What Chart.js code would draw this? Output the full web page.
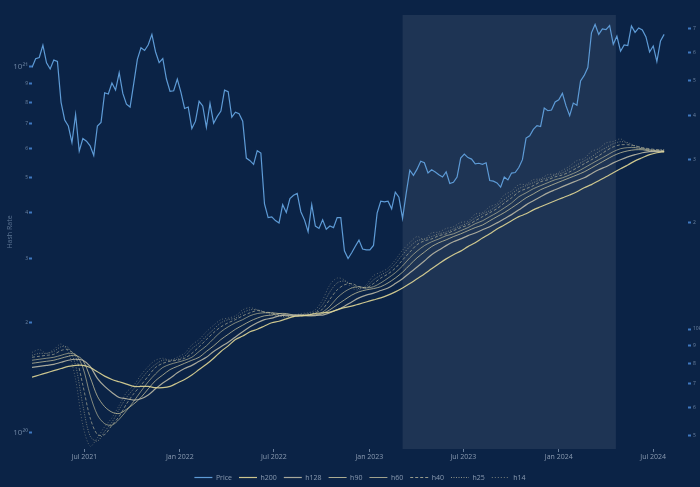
<!DOCTYPE html>
<html>
<head>
<meta charset="utf-8">
<script src="https://cdn.jsdelivr.net/npm/chart.js@4.4.1/dist/chart.umd.min.js"></script>
<style>
  html, body { margin: 0; padding: 0; background: #0b2346; }
</style>
</head>
<body>
<canvas id="hashChart" width="700" height="487"></canvas>
<script>
// sampling of the series below
const hashStart = "2021-03-22"; // one value every 14 days
const hashStepDays = 14;
const priceStart = "2021-03-22"; // one value every 7 days
const priceStepDays = 7;

// BTC price, USD
const price = [
  54500, 57700, 58200, 63000, 56200, 54000, 57200, 56700, 43500, 38800, 37300, 33500, 40200, 31700, 34400,
  33800, 32800, 30800, 37300, 38200, 46300, 45900, 49300, 47100, 52700, 46100, 43000, 42200, 49100, 57500,
  62000, 60900, 63200, 67600, 60400, 56300, 57800, 50600, 46700, 46900, 50600,
  46400, 41800, 42200, 36700, 38500, 43800, 42500, 37000, 43200, 38000, 39700, 41100, 47100, 46600, 39500,
  40800, 40400, 38500, 30300, 29800, 29100, 31800, 31300, 22500, 20600, 20700, 20200, 19900, 22400, 21300,
  23300, 23800, 24100, 21400, 20300, 18800, 22400, 19500, 19200, 20300, 19100, 19500, 19300, 20600, 20600,
  16600, 15800, 16400, 17100, 17800, 16800, 16700,
  16700, 17200, 21200, 22900, 22800, 22900, 21800, 24300, 23500, 20500, 24100, 28000, 27100, 28200, 29700,
  29400, 27500, 28100, 27700, 27200, 26800, 27700, 25700, 25900, 26800, 30300, 31100, 30400, 30100, 29200,
  29300, 29100, 29400, 26200, 26100, 25800, 25100, 26800, 26300, 27500, 27600, 28500, 30000, 34500, 35000,
  36500, 37400, 37200, 41900, 41200, 41400, 43600,
  44200, 46100, 42500, 39900, 43300, 42700, 50000, 51800, 54500, 68300, 72100, 67600, 70000, 69700, 71600,
  63400, 66800, 60600, 63100, 62900, 71400, 68500, 70500, 69600, 66500, 60300, 62700, 56700, 64800, 67600
];

// hash rate moving averages, EH/s
const h200 = [
  142, 144, 146, 148, 150, 152, 153, 153, 151, 147, 143, 140, 138, 136, 134, 134, 134, 133, 133, 134,
  137, 140, 144, 149, 154, 160, 167, 173, 180, 184, 189, 192, 196, 200, 202, 205, 208, 209, 210, 212,
  213, 214, 217, 220, 222, 225, 228, 231, 234, 238, 243, 249, 256, 264, 272, 281, 290, 299, 307, 314,
  323, 331, 341, 350, 361, 370, 380, 390, 397, 407, 415, 423, 431, 439, 447, 456, 468, 477, 489, 501,
  514, 527, 540, 554, 565, 576, 583, 587
];
const h128 = [
  151, 152, 153, 154, 156, 158, 159, 158, 152, 141, 134, 129, 125, 124, 123, 124, 127, 132, 137, 141,
  146, 150, 153, 157, 161, 167, 172, 177, 183, 189, 195, 200, 204, 206, 209, 210, 210, 210, 210, 210,
  210, 213, 217, 222, 228, 234, 238, 241, 245, 249, 256, 264, 274, 284, 295, 307, 316, 325, 333, 339,
  346, 352, 359, 366, 375, 385, 395, 407, 420, 431, 442, 453, 462, 471, 480, 489, 498, 511, 524, 534,
  547, 558, 568, 576, 583, 587, 587, 587
];
const h90 = [
  155, 156, 157, 158, 160, 162, 163, 158, 142, 126, 118, 114, 113, 116, 120, 125, 132, 139, 144, 149,
  152, 155, 158, 161, 167, 173, 180, 186, 192, 197, 202, 206, 209, 210, 212, 212, 210, 210, 209, 209,
  212, 217, 224, 231, 238, 243, 246, 248, 251, 257, 265, 275, 288, 301, 312, 323, 331, 337, 344, 350,
  357, 364, 370, 380, 390, 400, 412, 425, 439, 450, 462, 471, 480, 489, 498, 507, 517, 530, 544, 558,
  572, 583, 590, 594, 594, 590, 590, 587
];
const h60 = [
  158, 159, 160, 161, 163, 165, 164, 151, 127, 112, 106, 105, 109, 115, 122, 130, 138, 145, 151, 154,
  156, 158, 161, 167, 173, 181, 189, 195, 200, 204, 209, 212, 213, 213, 212, 210, 209, 209, 209, 210,
  214, 222, 234, 243, 249, 251, 249, 251, 257, 265, 274, 286, 301, 314, 325, 333, 339, 346, 350, 357,
  364, 373, 380, 390, 400, 412, 425, 442, 453, 465, 474, 483, 492, 498, 507, 517, 530, 544, 558, 572,
  587, 598, 602, 602, 598, 594, 590, 590
];
const h40 = [
  161, 162, 163, 164, 168, 169, 162, 135, 110, 99, 99, 105, 111, 120, 128, 135, 143, 151, 155, 157,
  158, 160, 165, 172, 180, 188, 195, 200, 204, 209, 213, 216, 214, 213, 210, 209, 208, 209, 210, 213,
  218, 232, 246, 254, 256, 251, 249, 256, 265, 272, 282, 297, 312, 327, 335, 339, 346, 350, 357, 364,
  370, 380, 390, 400, 410, 425, 439, 456, 465, 474, 486, 492, 501, 507, 517, 530, 544, 558, 572, 590,
  605, 613, 613, 609, 602, 598, 594, 590
];
const h25 = [
  163, 165, 165, 167, 172, 171, 153, 119, 98, 95, 101, 107, 116, 125, 132, 140, 148, 154, 158, 158,
  159, 162, 170, 176, 184, 192, 200, 204, 206, 213, 217, 217, 214, 212, 209, 208, 208, 210, 212, 214,
  224, 243, 257, 260, 254, 248, 251, 262, 270, 277, 290, 307, 323, 335, 339, 344, 350, 354, 361, 368,
  375, 387, 397, 405, 418, 434, 450, 465, 474, 483, 492, 498, 507, 514, 527, 540, 554, 568, 587, 602,
  617, 625, 621, 609, 602, 594, 594, 594
];
const h14 = [
  166, 169, 165, 169, 175, 166, 140, 105, 92, 97, 104, 110, 119, 129, 135, 144, 152, 158, 160, 158,
  161, 165, 174, 180, 189, 197, 204, 206, 209, 217, 220, 217, 214, 210, 209, 206, 209, 212, 213, 217,
  231, 254, 265, 262, 249, 246, 254, 269, 275, 282, 297, 316, 331, 344, 338, 352, 354, 362, 366, 376,
  379, 396, 400, 415, 423, 447, 458, 477, 478, 492, 495, 508, 510, 522, 536, 555, 562, 588, 598, 620,
  626, 636, 617, 602, 598, 590, 594, 594
];

// axes
const xTickDates = ["2021-07-01", "2022-01-01", "2022-07-01", "2023-01-01", "2023-07-01", "2024-01-01", "2024-07-01"];
const xTickLabels = ["Jul 2021", "Jan 2022", "Jul 2022", "Jan 2023", "Jul 2023", "Jan 2024", "Jul 2024"];
const xRange = ["2021-03-22", "2024-09-06"];
const hashTicks = [100, 200, 300, 400, 500, 600, 700, 800, 900, 1000];
const hashTickLabels = ["10²⁰", "2", "3", "4", "5", "6", "7", "8", "9", "10²¹"];
const hashRange = [90.4, 1387];
const priceTicks = [5000, 6000, 7000, 8000, 9000, 10000, 20000, 30000, 40000, 50000, 60000, 70000];
const priceTickLabels = ["5", "6", "7", "8", "9", "10k", "2", "3", "4", "5", "6", "7"];
const priceRange = [4592, 76650];
const shadeWindow = ["2023-03-06", "2024-04-20"];

const toDay = s => Date.parse(s) / 86400000;
const series = (vals, start, step) => vals.map((v, i) => ({ x: toDay(start) + i * step, y: v }));

Chart.defaults.font.family = "'Open Sans', 'DejaVu Sans', sans-serif";

const hashLine = (label, data, color, width, dash) => ({
  label: label,
  data: series(data, hashStart, hashStepDays),
  borderColor: color,
  backgroundColor: color,
  borderWidth: width,
  borderDash: dash,
  pointRadius: 0,
  tension: 0.3,
  yAxisID: "y",
});

// shaded window behind the lines
const shadePlugin = {
  id: "shade",
  beforeDatasetsDraw(chart) {
    const { ctx, chartArea, scales } = chart;
    const x0 = scales.x.getPixelForValue(toDay(shadeWindow[0]));
    const x1 = scales.x.getPixelForValue(toDay(shadeWindow[1]));
    ctx.save();
    ctx.fillStyle = "rgba(255,255,255,0.08)";
    ctx.fillRect(x0, chartArea.top, x1 - x0, chartArea.bottom - chartArea.top);
    ctx.restore();
  },
};

const legendSize = {
  id: "legendSize",
  beforeInit(chart) {
    const fit = chart.legend.fit;
    chart.legend.fit = function () {
      fit.call(this);
      this.height = 20;
    };
  },
};

const ctx = document.getElementById("hashChart").getContext("2d");

new Chart(ctx, {
  type: "line",
  data: {
    datasets: [
      {
        label: "Price",
        data: series(price, priceStart, priceStepDays),
        borderColor: "#5e9bd6",
        backgroundColor: "#5e9bd6",
        borderWidth: 1.2,
        borderDash: [],
        pointRadius: 0,
        tension: 0,
        yAxisID: "y2",
      },
      hashLine("h200", h200, "rgba(225,215,150,0.9)", 1.2, []),
      hashLine("h128", h128, "rgba(195,192,170,0.85)", 1.2, []),
      hashLine("h90", h90, "rgba(212,206,165,0.8)", 0.9, []),
      hashLine("h60", h60, "rgba(212,206,165,0.75)", 0.8, []),
      hashLine("h40", h40, "rgba(212,206,170,0.7)", 0.8, [3, 2]),
      hashLine("h25", h25, "rgba(212,206,170,0.65)", 0.8, [1, 1.5]),
      hashLine("h14", h14, "rgba(212,206,170,0.55)", 0.7, [1, 2]),
    ],
  },
  options: {
    responsive: false,
    animation: false,
    devicePixelRatio: 1,
    layout: { padding: { top: 15, left: 0, right: 0, bottom: 0 } },
    plugins: {
      tooltip: { enabled: false },
      legend: {
        position: "bottom",
        fullSize: false,
        labels: {
          usePointStyle: true,
          pointStyle: "line",
          pointStyleWidth: 18,
          padding: 7,
          color: "#8b9bb1",
          font: { size: 7 },
          generateLabels: chart => chart.data.datasets.map((d, i) => ({
            text: d.label,
            datasetIndex: i,
            strokeStyle: d.borderColor,
            fillStyle: d.borderColor,
            lineWidth: Math.max(d.borderWidth, 1),
            lineDash: d.borderDash,
            pointStyle: "line",
            fontColor: "#8b9bb1",
            hidden: false,
          })),
        },
      },
    },
    scales: {
      x: {
        type: "linear",
        min: toDay(xRange[0]),
        max: toDay(xRange[1]),
        afterBuildTicks: s => { s.ticks = xTickDates.map(d => ({ value: toDay(d) })); },
        afterFit: s => { s.height = 18; },
        grid: { drawOnChartArea: false, drawTicks: true, tickLength: 3, tickColor: "#6a7f9c" },
        border: { display: false },
        ticks: {
          autoSkip: false,
          maxRotation: 0,
          padding: 1,
          color: "#8b9bb1",
          font: { size: 7 },
          callback: (v, i) => xTickLabels[i],
        },
      },
      y: {
        type: "logarithmic",
        position: "left",
        min: hashRange[0],
        max: hashRange[1],
        afterBuildTicks: s => { s.ticks = hashTicks.map(v => ({ value: v })); },
        afterFit: s => { s.width = 32; },
        grid: { drawOnChartArea: false, drawTicks: true, tickLength: 3, tickWidth: 2, tickColor: "#3f78c0" },
        border: { display: false },
        ticks: {
          autoSkip: false,
          padding: 1,
          color: "#6d84a2",
          font: c => ({ size: (c.index === 0 || c.index === hashTicks.length - 1) ? 8 : 5 }),
          callback: (v, i) => hashTickLabels[i],
        },
        title: {
          display: true,
          text: "Hash Rate",
          color: "#5d7594",
          font: { size: 7 },
          padding: { top: 6, bottom: 0 },
        },
      },
      y2: {
        type: "logarithmic",
        position: "right",
        min: priceRange[0],
        max: priceRange[1],
        afterBuildTicks: s => { s.ticks = priceTicks.map(v => ({ value: v })); },
        afterFit: s => { s.width = 12; },
        grid: { drawOnChartArea: false, drawTicks: true, tickLength: 3, tickWidth: 2, tickColor: "#3f78c0" },
        border: { display: false },
        ticks: {
          autoSkip: false,
          padding: 2,
          color: "#6d84a2",
          font: { size: 5 },
          callback: (v, i) => priceTickLabels[i],
        },
      },
    },
  },
  plugins: [shadePlugin, legendSize],
});
</script>
</body>
</html>
